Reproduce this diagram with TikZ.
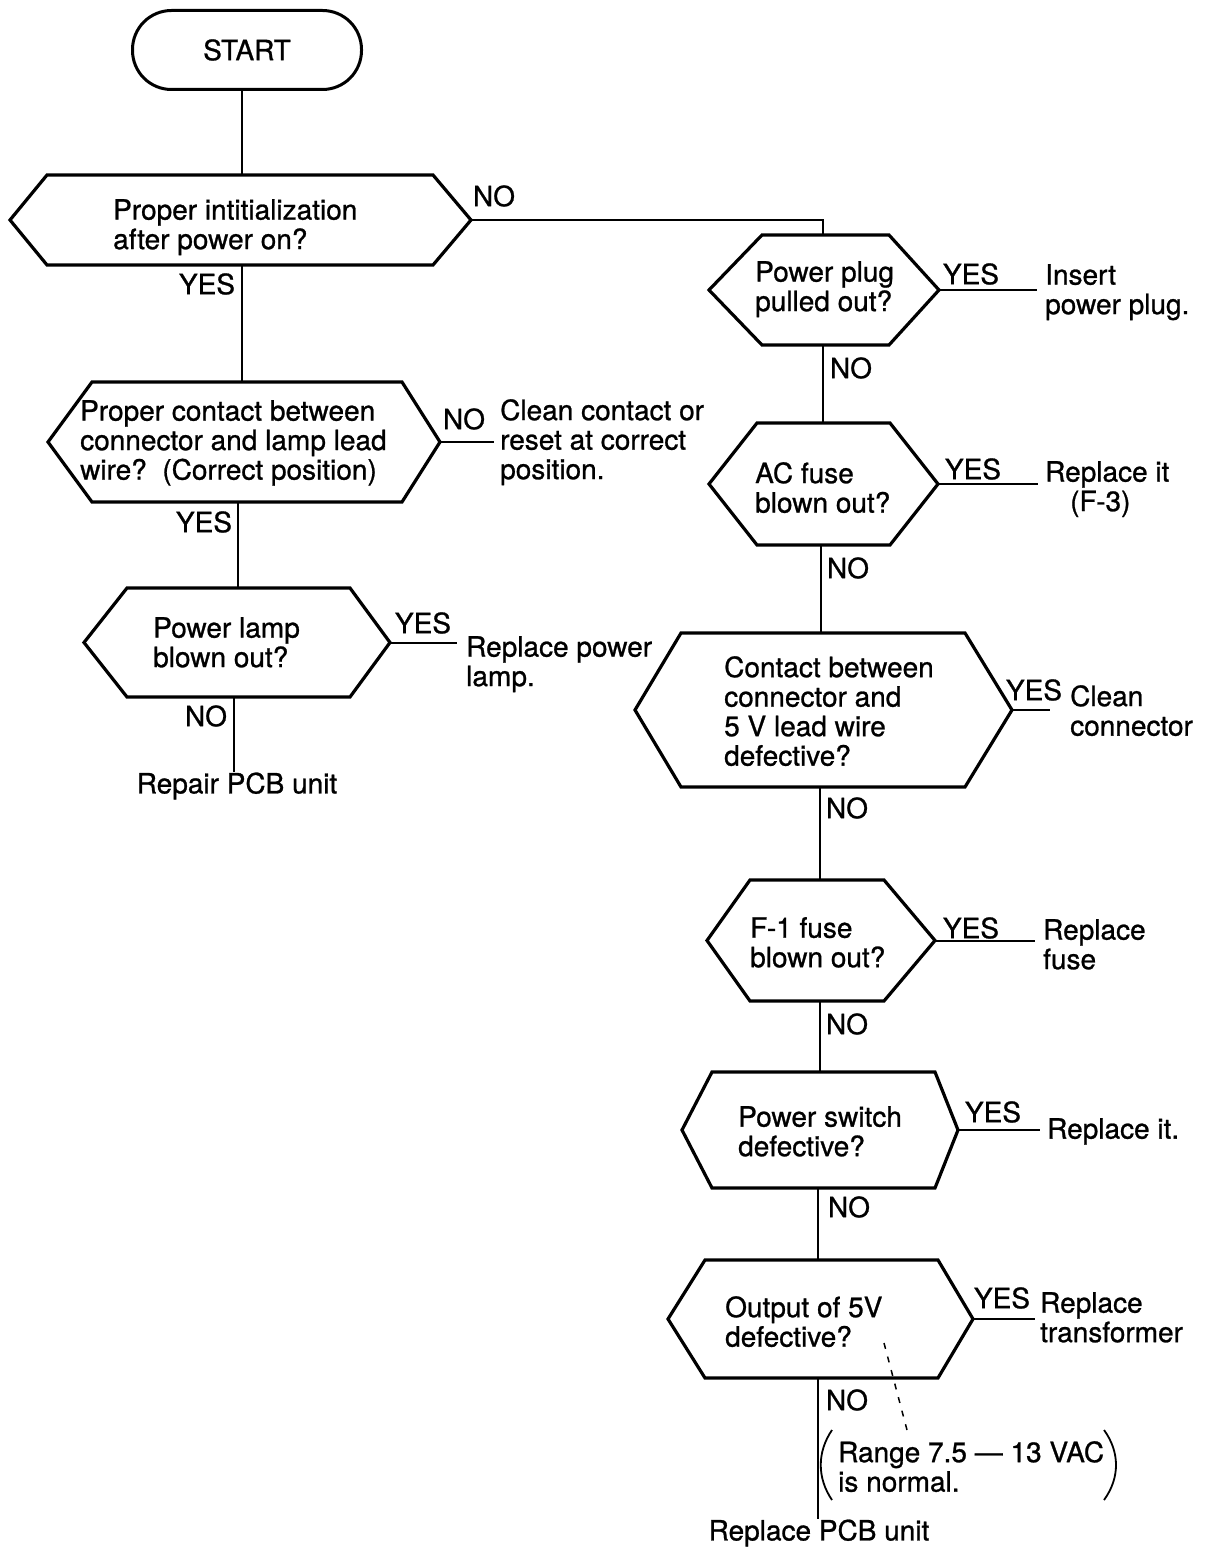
\documentclass[tikz,border=0pt]{standalone}
\usepackage{fontspec}
\setmainfont{TeX Gyre Heros}[FakeBold=0.9]
\newcommand\hexshape[8]{%
  \coordinate (#1-W) at (#2,{(#6+#7)/2});
  \coordinate (#1-E) at (#5,{(#6+#7)/2});
  \coordinate (#1-T) at (#8,#6);
  \coordinate (#1-B) at (#8,#7);
  \draw[shp] (#1-W) -- (#3,#6) -- (#4,#6) -- (#1-E) -- (#4,#7) -- (#3,#7) -- cycle;
}
\begin{document}
\begin{tikzpicture}[x=1pt,y=-1pt,
  every node/.style={font=\fontsize{28}{29.5}\selectfont, inner sep=0pt},
  shp/.style={draw, line width=3.2pt, line join=miter},
  conn/.style={line width=2pt},
  lbl/.style={anchor=center},
  txt/.style={anchor=north west, align=left}]
\useasboundingbox (0,0) rectangle (1205,1549);

% START
\node[draw, line width=3pt, rounded corners=39pt, minimum width=229pt, minimum height=79pt] (start) at (247,50) {START};

% hexagons: name, left pt, inner left, inner right, right pt, top, bottom, connector x
\hexshape{h1}{10}{47}{433}{471}{175}{265}{242}
\hexshape{h3}{48}{92}{402}{440}{382}{502}{238}
\hexshape{h4}{84}{127}{350}{390}{588}{697}{234}
\hexshape{h2}{709}{762}{889}{939}{235}{345}{823}
\hexshape{h5}{709}{757}{890}{938}{423}{545}{821}
\hexshape{h6}{635}{681}{965}{1012}{633}{787}{820}
\hexshape{h7}{707}{750}{884}{935}{880}{1001}{820}
\hexshape{h8}{682}{712}{935}{958}{1072}{1188}{818}
\hexshape{h9}{668}{705}{938}{973}{1260}{1378}{818}

% texts in decision boxes
\node[txt] (t1) at (113,199) {Proper intitialization\\after power on?};
\node[txt] (t3) at (80,400) {Proper contact between\\connector and lamp lead\\wire?\ \ (Correct position)};
\node[txt] (t4) at (153,617) {Power lamp\\blown out?};
\node[txt] (t2) at (755,261) {Power plug\\pulled out?};
\node[txt] (t5) at (755,462) {AC fuse\\blown out?};
\node[txt] (t6) at (724,656) {Contact between\\connector and\\5 V lead wire\\defective?};
\node[txt] (t7) at (750,917) {F-1 fuse\\blown out?};
\node[txt] (t8) at (738,1106) {Power switch\\defective?};
\node[txt] (t9) at (725,1296) {Output of 5V\\defective?};

% results
\node[txt] (r3) at (500,399) {Clean contact or\\reset at correct\\position.};
\node[txt] (r4) at (466,636) {Replace power\\lamp.};
\node[lbl] (pcb1) at (237,786) {Repair PCB unit};
\node[txt] (r2) at (1045,264) {Insert\\power plug.};
\node[txt] (r5) at (1045,461) {Replace it\\\hspace*{25pt}(F-3)};
\node[txt] (r6) at (1070,685) {Clean\\connector};
\node[txt] (r7) at (1043,919) {Replace\\fuse};
\node[txt] (r8) at (1047,1118) {Replace it.};
\node[txt] (r9) at (1040,1292) {Replace\\transformer};
\node[txt] (note) at (838,1441) {Range 7.5 — 13 VAC\\is normal.};
\node[lbl] (pcb2) at (819,1533) {Replace PCB unit};

% YES / NO labels
\node[lbl] (n1) at (494,196) {NO};
\node[lbl] (y1) at (207,284) {YES};
\node[lbl] (n3) at (464,419) {NO};
\node[lbl] (y3) at (204,522) {YES};
\node[lbl] (y4) at (423,623) {YES};
\node[lbl] (n4) at (206,716) {NO};
\node[lbl] (y2) at (971,274) {YES};
\node[lbl] (n2) at (851,368) {NO};
\node[lbl] (y5) at (973,469) {YES};
\node[lbl] (n5) at (848,568) {NO};
\node[lbl] (y6) at (1034,690) {YES};
\node[lbl] (n6) at (847,808) {NO};
\node[lbl] (y7) at (971,928) {YES};
\node[lbl] (n7) at (847,1024) {NO};
\node[lbl] (y8) at (993,1112) {YES};
\node[lbl] (n8) at (849,1207) {NO};
\node[lbl] (y9) at (1002,1298) {YES};
\node[lbl] (n9) at (847,1400) {NO};

% free ends of YES/NO branches
\coordinate (e3) at (494,442);
\coordinate (e4) at (457,642.5);
\coordinate (e2) at (1037,290);
\coordinate (e5) at (1038,484);
\coordinate (e6) at (1050,710);
\coordinate (e7) at (1035,940.5);
\coordinate (e8) at (1040,1130);
\coordinate (e9) at (1035,1319);

% connectors
\draw[conn] (start.south -| h1-T) -- (h1-T);
\draw[conn] (h1-E) -| (h2-T);
\draw[conn] (h1-B) -- (h1-B |- h3-T);
\draw[conn] (h3-E) -- (e3);
\draw[conn] (h3-B) -- (h3-B |- h4-T);
\draw[conn] (h4-E) -- (e4);
\draw[conn] (h4-B) -- (h4-B |- pcb1.north);
\draw[conn] (h2-E) -- (e2);
\draw[conn] (h2-B) -- (h2-B |- h5-T);
\draw[conn] (h5-E) -- (e5);
\draw[conn] (h5-B) -- (h5-B |- h6-T);
\draw[conn] (h6-E) -- (e6);
\draw[conn] (h6-B) -- (h6-B |- h7-T);
\draw[conn] (h7-E) -- (e7);
\draw[conn] (h7-B) -- (h7-B |- h8-T);
\draw[conn] (h8-E) -- (e8);
\draw[conn] (h8-B) -- (h8-B |- h9-T);
\draw[conn] (h9-E) -- (e9);
\draw[conn] (h9-B) -- (h9-B |- pcb2.north);

% note brackets and dashed pointer
\draw[line width=1.8pt] (832,1430) .. controls (817,1452) and (817,1478) .. (832,1500);
\draw[line width=1.8pt] (1104,1430) .. controls (1120,1452) and (1120,1478) .. (1104,1500);
\draw[line width=1.5pt, dash pattern=on 6pt off 8pt] (884,1343) -- (907,1430);
\end{tikzpicture}
\end{document}
